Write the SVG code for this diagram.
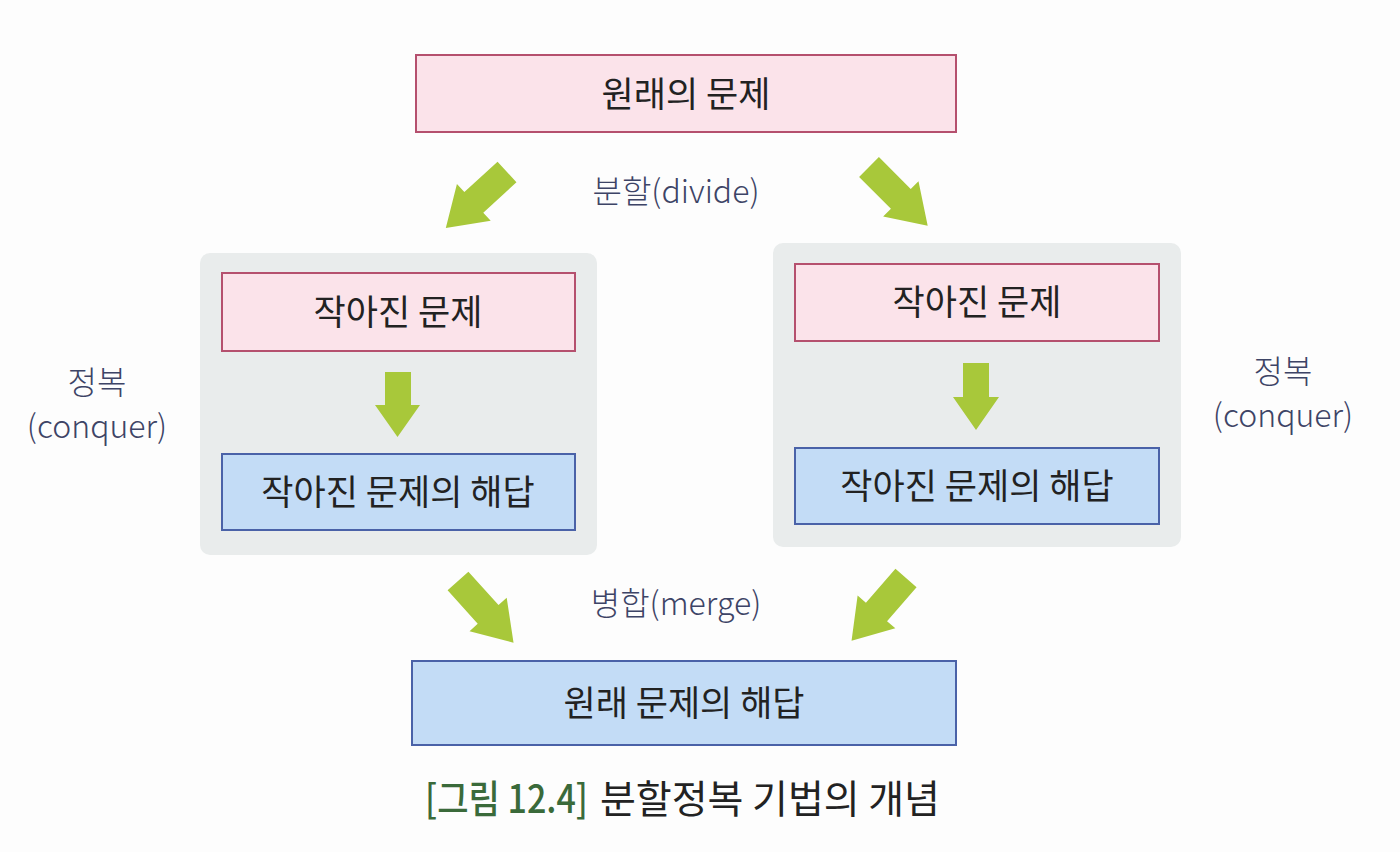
<svg xmlns="http://www.w3.org/2000/svg" width="1400" height="852" viewBox="0 0 1400 852">
<style>
.pink{fill:#fbe3ea;stroke:#b5506e;stroke-width:2}
.blue{fill:#c3dcf6;stroke:#4a62a8;stroke-width:2}
.panel{fill:#e9ecec}
.t{font-family:"Noto Sans CJK KR","Noto Sans",sans-serif;font-size:35px;fill:#222;text-anchor:middle}
.lbl{font-family:"Noto Sans CJK KR","Noto Sans",sans-serif;font-size:32px;font-weight:300;fill:#3d4466;text-anchor:middle}
.arrow{fill:#a8c83a}
.cap{font-family:"Noto Sans CJK KR","Noto Sans",sans-serif;font-size:39px}
</style>
<defs>
<path id="da" d="M0,-14 L45,-14 L45,-25 L83,0 L45,25 L45,14 L0,14 Z"/>
</defs>
<rect width="1400" height="852" fill="#fdfdfd"/>
<g id="orig">
<rect class="pink" x="416" y="55" width="540" height="77"/>
<text class="t" x="686" y="107">원래의 문제</text>
</g>
<g id="left-panel">
<rect class="panel" x="200" y="253" width="397" height="302" rx="10"/>
</g>
<g id="left-sub">
<rect class="pink" x="222" y="273" width="353" height="78"/>
<text class="t" x="398" y="325">작아진 문제</text>
</g>
<g id="left-sol">
<rect class="blue" x="222" y="454" width="353" height="76"/>
<text class="t" x="398" y="505">작아진 문제의 해답</text>
</g>
<g id="right-panel">
<rect class="panel" x="773" y="243" width="408" height="304" rx="10"/>
</g>
<g id="right-sub">
<rect class="pink" x="795" y="264" width="364" height="77"/>
<text class="t" x="977" y="315">작아진 문제</text>
</g>
<g id="right-sol">
<rect class="blue" x="795" y="448" width="364" height="76"/>
<text class="t" x="977" y="499">작아진 문제의 해답</text>
</g>
<g id="result">
<rect class="blue" x="412" y="661" width="544" height="84"/>
<text class="t" x="684" y="716">원래 문제의 해답</text>
</g>
<g id="connectors">
<use href="#da" class="arrow" transform="translate(507,172) rotate(137.5)"/>
<use href="#da" class="arrow" transform="translate(869,167) rotate(45)"/>
<use href="#da" class="arrow" transform="translate(458,581) rotate(48)"/>
<use href="#da" class="arrow" transform="translate(906,578) rotate(131)"/>
<path class="arrow" d="M385,372 L411,372 L411,405 L420,405 L397.5,437 L375,405 L385,405 Z"/>
<path class="arrow" d="M963,363 L989,363 L989,397 L999,397 L976,430 L953,397 L963,397 Z"/>
</g>
<g id="labels">
<text class="lbl" x="676" y="203">분할(divide)</text>
<text class="lbl" x="676" y="615">병합(merge)</text>
<text class="lbl" x="97" y="394">정복</text>
<text class="lbl" x="97" y="438">(conquer)</text>
<text class="lbl" x="1283" y="383">정복</text>
<text class="lbl" x="1283" y="427">(conquer)</text>
</g>
<g id="caption">
<text class="cap" x="425" y="813" fill="#3a6a3a" font-weight="500" textLength="163" lengthAdjust="spacingAndGlyphs">[그림 12.4]</text>
<text class="cap" x="600" y="813" fill="#222" textLength="340">분할정복 기법의 개념</text>
</g>
</svg>
